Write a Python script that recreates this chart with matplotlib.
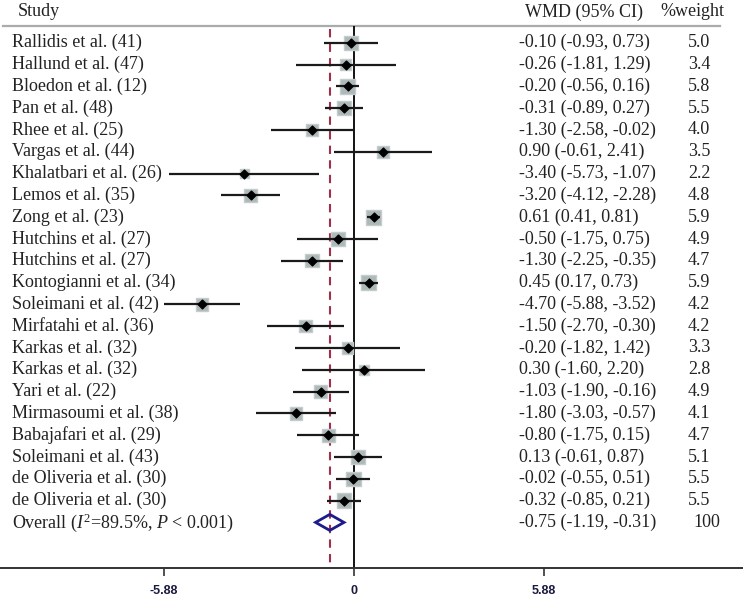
import matplotlib
matplotlib.use("Agg")
import matplotlib.pyplot as plt
import numpy as np

studies = ["Rallidis et al. (41)", "Hallund et al. (47)", "Bloedon et al. (12)", "Pan et al. (48)",
           "Rhee et al. (25)", "Vargas et al. (44)", "Khalatbari et al. (26)", "Lemos et al. (35)",
           "Zong et al. (23)", "Hutchins et al. (27)", "Hutchins et al. (27)", "Kontogianni et al. (34)",
           "Soleimani et al. (42)", "Mirfatahi et al. (36)", "Karkas et al. (32)", "Karkas et al. (32)",
           "Yari et al. (22)", "Mirmasoumi et al. (38)", "Babajafari et al. (29)", "Soleimani et al. (43)",
           "de Oliveria et al. (30)", "de Oliveria et al. (30)"]
wmd = [-0.10, -0.26, -0.20, -0.31, -1.30, 0.90, -3.40, -3.20, 0.61, -0.50, -1.30, 0.45,
       -4.70, -1.50, -0.20, 0.30, -1.03, -1.80, -0.80, 0.13, -0.02, -0.32]
lo = [-0.93, -1.81, -0.56, -0.89, -2.58, -0.61, -5.73, -4.12, 0.41, -1.75, -2.25, 0.17,
      -5.88, -2.70, -1.82, -1.60, -1.90, -3.03, -1.75, -0.61, -0.55, -0.85]
hi = [0.73, 1.29, 0.16, 0.27, -0.02, 2.41, -1.07, -2.28, 0.81, 0.75, -0.35, 0.73,
      -3.52, -0.30, 1.42, 2.20, -0.16, -0.57, 0.15, 0.87, 0.51, 0.21]
weight = [5.0, 3.4, 5.8, 5.5, 4.0, 3.5, 2.2, 4.8, 5.9, 4.9, 4.7, 5.9,
          4.2, 4.2, 3.3, 2.8, 4.9, 4.1, 4.7, 5.1, 5.5, 5.5]
overall_est, overall_lo, overall_hi = -0.75, -1.19, -0.31
overall_label = "Overall ($I^2$=89.5%, $P$ < 0.001)"
tick_vals = [-5.88, 0, 5.88]
tick_labels = ["-5.88", "0", "5.88"]

plt.rcParams['font.family'] = ['Liberation Serif', 'DejaVu Serif']
plt.rcParams['mathtext.fontset'] = 'custom'
plt.rcParams['mathtext.rm'] = 'Liberation Serif'
plt.rcParams['mathtext.it'] = 'Liberation Serif:italic'

W, H = 743, 599
fig = plt.figure(figsize=(W / 100, H / 100), dpi=100)
ax = fig.add_axes([0, 0, 1, 1])
ppu = 32.3
x0 = 354
ax.set_xlim(-x0 / ppu, (W - x0) / ppu)
ax.set_ylim(H, 0)

row0, dy = 42.8, 21.8
ys = row0 + dy * np.arange(len(studies))
y_over = row0 + dy * len(studies)
header_y, header_line = 12, 26
axis_y = 568

fs = 13
tc = '#222222'
tr = ax.get_yaxis_transform()
# header
ax.text(18 / W, header_y, "Study", transform=tr, fontsize=fs, va='center', color=tc)
ax.text(525 / W, header_y, "WMD (95% CI)", transform=tr, fontsize=fs, va='center', color=tc)
ax.text(660 / W, header_y, "%weight", transform=tr, fontsize=fs, va='center', color=tc)
ax.plot([3 / W, 720 / W], [header_line, header_line], transform=tr,
        color='#a8acac', lw=1.6, clip_on=False)

# reference lines
ax.vlines(0, header_line, axis_y, color='black', lw=1.3)
ax.vlines(overall_est, header_line + 3, axis_y, color='#a0304a', lw=1.5, linestyles=(0, (4, 3)))

# CIs and squares
for y, e, l, h, w in zip(ys, wmd, lo, hi, weight):
    ax.plot([l, h], [y, y], color='#1a1a1a', lw=1.6, solid_capstyle='butt', zorder=3)
side_pt = 6.1 * np.sqrt(np.array(weight)) * 0.72
ax.scatter(wmd, ys, s=side_pt ** 2, marker='s', color='#adb8b8', edgecolor='#c4cccc', zorder=2)
ax.scatter(wmd, ys, s=20, marker='D', color='black', zorder=4)

# overall diamond
ax.fill([overall_lo, overall_est, overall_hi, overall_est, overall_lo],
        [y_over, y_over - 8, y_over, y_over + 8, y_over], facecolor='none', edgecolor='#1c1c8a', lw=2, zorder=4)

# text columns
for y, s, e, l, h, w in zip(ys, studies, wmd, lo, hi, weight):
    ax.text(12 / W, y, s, transform=tr, fontsize=fs, va='center', color=tc)
    ax.text(519 / W, y, f"{e:.2f} ({l:.2f}, {h:.2f})", transform=tr,
            fontsize=fs, va='center', color=tc)
    ax.text(688 / W, y, f"{w:.1f}", transform=tr, fontsize=fs, va='center', color=tc)
ax.text(12 / W, y_over, overall_label, transform=tr, fontsize=fs, va='center', color=tc)
ax.text(519 / W, y_over, f"{overall_est:.2f} ({overall_lo:.2f}, {overall_hi:.2f})",
        transform=tr, fontsize=fs, va='center', color=tc)
ax.text(693 / W, y_over, "100", transform=tr, fontsize=fs, va='center', color=tc)

# x axis
for sp in ['top', 'left', 'right']:
    ax.spines[sp].set_visible(False)
ax.spines['bottom'].set_position(('data', axis_y))
ax.spines['bottom'].set_color('#333333')
ax.spines['bottom'].set_linewidth(1.4)
ax.set_xticks(tick_vals)
ax.set_xticklabels(tick_labels, fontsize=9, family='Liberation Sans', fontweight='bold', color='#1a1a40')
ax.tick_params(axis='x', direction='out', length=6, width=1.2, pad=6, color='#333333')
ax.set_yticks([])
ax.patch.set_alpha(0)

fig.savefig("out.png", dpi=100)
